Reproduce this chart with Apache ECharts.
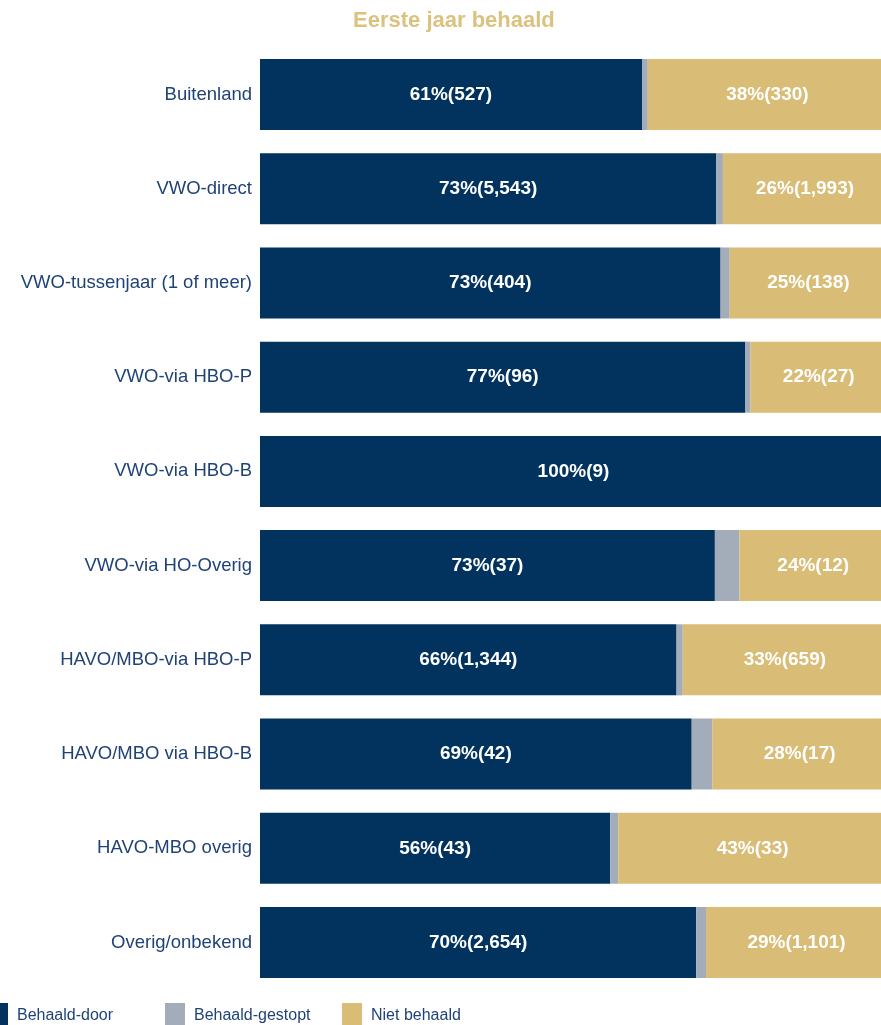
<!DOCTYPE html>
<html>
<head>
<meta charset="utf-8">
<script src="https://cdn.jsdelivr.net/npm/echarts@6/dist/echarts.min.js"></script>
<style>html,body{margin:0;padding:0;background:#fff;overflow:hidden;}#c{width:887px;height:1025px;}</style>
</head>
<body>
<div id="c"></div>
<script>
const categories = ['Buitenland','VWO-direct','VWO-tussenjaar (1 of meer)','VWO-via HBO-P','VWO-via HBO-B','VWO-via HO-Overig','HAVO/MBO-via HBO-P','HAVO/MBO via HBO-B','HAVO-MBO overig','Overig/onbekend'];
const behaaldDoor = [527, 5543, 404, 96, 9, 37, 1344, 42, 43, 2654];
const behaaldGestopt = [8, 80, 8, 1, 0, 2, 20, 2, 1, 60];
const nietBehaald = [330, 1993, 138, 27, 0, 12, 659, 17, 33, 1101];
const seriesNames = ['Behaald-door','Behaald-gestopt','Niet behaald'];
const colors = ['#02335f','#a3adb9','#d9bc75'];

const totals = categories.map((c,i)=>behaaldDoor[i]+behaaldGestopt[i]+nietBehaald[i]);
function pctData(arr){ return arr.map((v,i)=>({value: v/totals[i]*100, count: v})); }

function labelFmt(p){
  const c = p.data.count;
  if (!c) return '';
  return Math.round(p.value) + '%(' + c.toLocaleString('en-US') + ')';
}
const font = 'Liberation Sans, Arial, sans-serif';
const chart = echarts.init(document.getElementById('c'), null, {renderer:'canvas'});
const raw = [behaaldDoor, behaaldGestopt, nietBehaald];
const series = raw.map((arr,k)=>({
  name: seriesNames[k], type:'bar', stack:'tot', barWidth:71,
  itemStyle:{color: colors[k]},
  label:{show: k!==1, position:'inside', color:'#fff', fontWeight:'bold', fontSize:19, fontFamily:font, formatter: labelFmt},
  data: pctData(arr)
}));
const legendLefts = [-12, 165, 342];
chart.setOption({
  animation:false,
  title:{text:'Eerste jaar behaald', left:348, top:5, textStyle:{color:'#dcc27f', fontSize:22, fontWeight:'bold', fontFamily:font}},
  grid:{left:260, right:0, top:47.4, bottom:35.4, containLabel:false},
  xAxis:{type:'value', min:0, max:100, show:false},
  yAxis:{type:'category', data:categories, inverse:true, axisLine:{show:false}, axisTick:{show:false},
    axisLabel:{color:'#1f4277', fontSize:18.5, fontFamily:font, margin:8}},
  legend: seriesNames.map((n,k)=>({data:[n], left:legendLefts[k], top:1003, padding:0, itemWidth:20, itemHeight:26, itemGap:0,
    icon:'rect', textStyle:{color:'#1f4277', fontSize:16, fontFamily:font, padding:[2,0,0,4]}})),
  series: series
});
</script>
</body>
</html>
